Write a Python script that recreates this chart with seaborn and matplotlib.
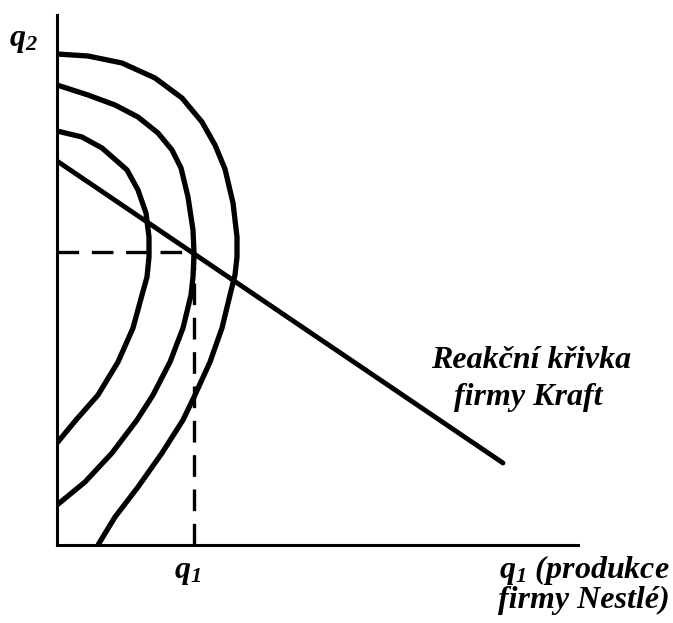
import pandas as pd
import seaborn as sns
import matplotlib.pyplot as plt

# isoprofit curves of Nestlé
outer_x = [0, 31, 65, 98, 125, 145, 158, 168, 176, 180, 180, 178, 173, 165, 153, 138, 126, 105, 81, 58, 41]
outer_y = [491, 489, 482, 467, 447, 423, 400, 376, 342, 308, 288, 270, 250, 217, 183, 150, 125, 92, 58, 28, 0]
middle_x = [0, 31, 58, 81, 101, 115, 124, 131, 136, 137, 136, 134, 126, 113, 96, 80, 55, 28, 0]
middle_y = [460, 450, 440, 428, 412, 395, 377, 348, 315, 292, 268, 250, 217, 183, 150, 125, 92, 63, 40]
inner_x = [0, 25, 45, 61, 70, 81, 89, 92, 92, 90, 85, 76, 61, 41, 19, 0]
inner_y = [414, 408, 397, 383, 375, 355, 332, 308, 288, 268, 250, 217, 183, 150, 125, 102]

# reaction curve of Kraft
reaction_x = [0, 446]
reaction_y = [384, 82]

# equilibrium point
eq_q1 = 137
eq_q2 = 293

x_max = 521
y_max = 530

sns.set_theme(style="white")
plt.rcParams["mathtext.fontset"] = "custom"
plt.rcParams["mathtext.rm"] = "Liberation Serif:bold:italic"
plt.rcParams["mathtext.it"] = "Liberation Serif:bold:italic"
plt.rcParams["mathtext.bf"] = "Liberation Serif:bold:italic"
plt.rcParams["font.family"] = ["Liberation Serif", "DejaVu Serif"]

W, H = 673, 623
fig = plt.figure(figsize=(W / 100, H / 100), dpi=100)
ax = fig.add_axes([57 / W, (H - 545) / H, x_max / W, y_max / H])

curves = [(outer_x, outer_y), (middle_x, middle_y), (inner_x, inner_y)]
for cx, cy in curves:
    d = pd.DataFrame({"x": cx, "y": cy})
    sns.lineplot(data=d, x="x", y="y", sort=False, estimator=None, color="black",
                 lw=3.8, ax=ax, solid_capstyle="butt", solid_joinstyle="round")

d = pd.DataFrame({"x": reaction_x, "y": reaction_y})
sns.lineplot(data=d, x="x", y="y", sort=False, estimator=None, color="black",
             lw=3.5, ax=ax, solid_capstyle="round")

# dashed guides
ax.plot([0, eq_q1], [eq_q2, eq_q2], color="black", lw=2.4, dashes=(6.5, 3.8))
ax.plot([eq_q1, eq_q1], [0, eq_q2], color="black", lw=2.4, dashes=(6.5, 3.8))

ax.set_xlim(0, x_max)
ax.set_ylim(0, y_max)
ax.set_xticks([])
ax.set_yticks([])
ax.set_xlabel("")
ax.set_ylabel("")
for s in ["top", "right"]:
    ax.spines[s].set_visible(False)
for s in ["left", "bottom"]:
    ax.spines[s].set_color("black")
    ax.spines[s].set_linewidth(2.2)

tk = dict(fontsize=23, fontweight="bold", fontstyle="italic", color="black",
          clip_on=False, va="baseline")

def px(x, y):
    return x - 57, 545 - y

ax.text(*px(9, 46), r"$q_2$", ha="left", **tk)
ax.text(*px(187, 578), r"$q_1$", ha="center", **tk)
ax.text(*px(670, 578), r"$q_1$" + " (produkce", ha="right", **tk)
ax.text(*px(670, 608), "firmy Nestlé)", ha="right", **tk)
ax.text(*px(531, 368), "Reakční křivka", ha="center", **tk)
ax.text(*px(528, 405), "firmy Kraft", ha="center", **tk)

fig.savefig("out.png", dpi=100, facecolor="white")
